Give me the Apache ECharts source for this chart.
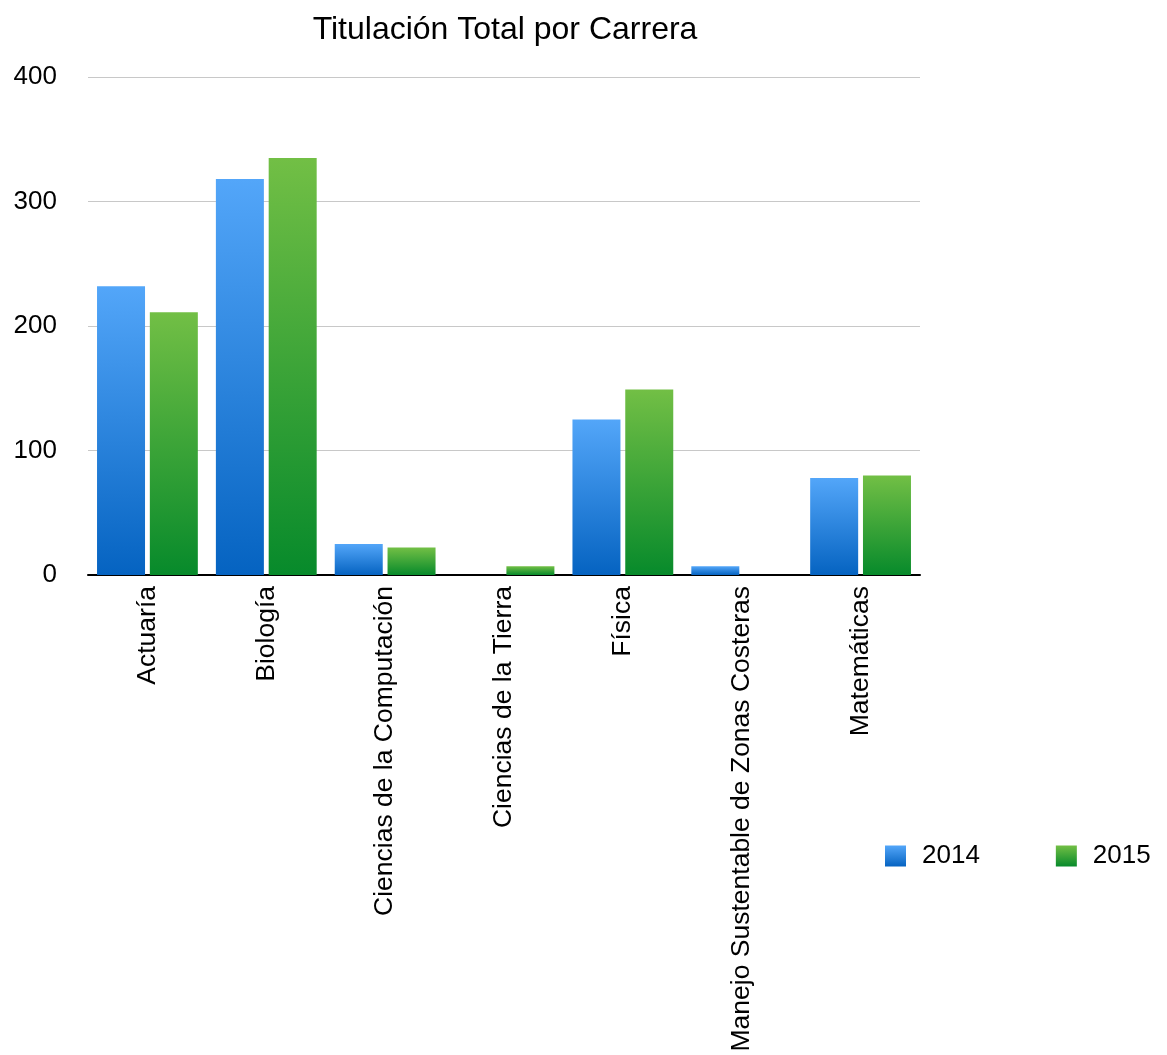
<!DOCTYPE html>
<html>
<head>
    <meta charset="utf-8">
    <title>Titulación Total por Carrera</title>
    <script src="https://cdn.jsdelivr.net/npm/echarts@6/dist/echarts.min.js"></script>
    <style>
        html, body { margin: 0; padding: 0; background: #fff; }
        #chart { width: 1167px; height: 1055px; }
    </style>
</head>
<body>
<div id="chart"></div>
<script>
    // datos
    var carreras = ['Actuaría', 'Biología', 'Ciencias de la Computación', 'Ciencias de la Tierra',
        'Física', 'Manejo Sustentable de Zonas Costeras', 'Matemáticas'];
    var anios = ['2014', '2015'];
    var datos2014 = [232, 318, 25, 0, 125, 7, 78];
    var datos2015 = [211, 335, 22, 7, 149, 0, 80];
    var ticksY = [0, 100, 200, 300, 400];

    var fuente = 'Liberation Sans, Helvetica, Arial, sans-serif';

    function degradado(arriba, abajo) {
        return new echarts.graphic.LinearGradient(0, 0, 0, 1, [
            {offset: 0, color: arriba},
            {offset: 1, color: abajo}
        ]);
    }

    var chart = echarts.init(document.getElementById('chart'));
    var option = {
        animation: false,
        backgroundColor: '#ffffff',
        title: {
            text: 'Titulación Total por Carrera',
            left: 500,
            textAlign: 'center',
            top: 9,
            textStyle: {fontFamily: fuente, fontSize: 32, fontWeight: 'normal', color: '#000'}
        },
        legend: {
            data: anios,
            icon: 'rect',
            left: 880,
            top: 838,
            itemWidth: 21,
            itemHeight: 21,
            itemGap: 76,
            textStyle: {fontFamily: fuente, fontSize: 26, color: '#000', padding: [0, 0, 0, 11]}
        },
        grid: {left: 88, right: 247, top: 77, bottom: 480},
        xAxis: {
            type: 'category',
            data: carreras,
            axisLine: {lineStyle: {color: '#000', width: 2}},
            axisTick: {show: false},
            axisLabel: {
                rotate: 90,
                interval: 0,
                margin: 11,
                fontFamily: fuente,
                fontSize: 26.5,
                color: '#000'
            }
        },
        yAxis: {
            type: 'value',
            min: ticksY[0],
            max: ticksY[ticksY.length - 1],
            interval: 100,
            axisLine: {show: false},
            axisTick: {show: false},
            splitLine: {lineStyle: {color: '#c8c8c8', width: 1}},
            axisLabel: {margin: 31, fontFamily: fuente, fontSize: 26, color: '#000'}
        },
        series: [
            {
                name: '2014',
                type: 'bar',
                data: datos2014,
                barWidth: 48,
                barGap: '10%',
                itemStyle: {color: degradado('#53a6f9', '#0563c1')}
            },
            {
                name: '2015',
                type: 'bar',
                data: datos2015,
                barWidth: 48,
                itemStyle: {color: degradado('#72bf45', '#078a2b')}
            }
        ]
    };
    chart.setOption(option);
</script>
</body>
</html>
